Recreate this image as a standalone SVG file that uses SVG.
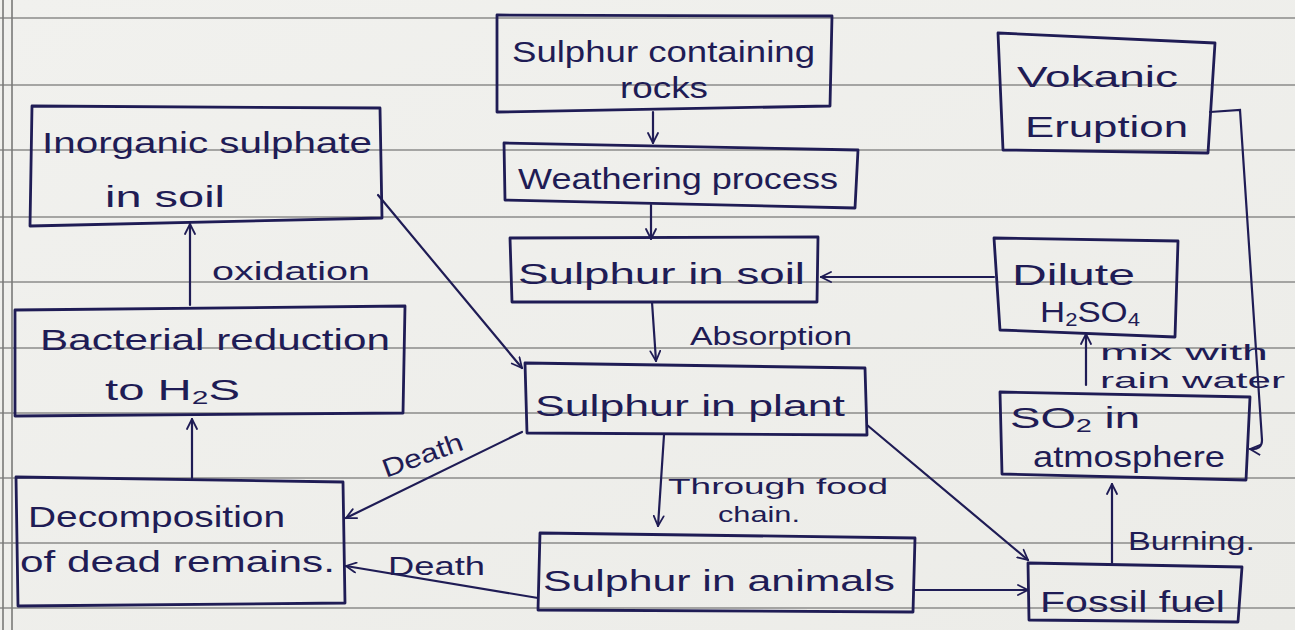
<svg xmlns="http://www.w3.org/2000/svg" width="1295" height="630" viewBox="0 0 1295 630">
  <style>
    .rule { stroke: #8c8c8a; stroke-width: 1.6; fill: none; }
    .margin { stroke: #7a7a78; stroke-width: 1.6; fill: none; }
    .box { fill: none; stroke: #1f1c55; stroke-width: 2.8; stroke-linejoin: round; }
    .edge { fill: none; stroke: #1f1c55; stroke-width: 2.2; stroke-linecap: round; }
    .t { font-family: "Liberation Sans", "DejaVu Sans", sans-serif; font-size: 30px; fill: #1f1c55; }
    .lbl { font-family: "Liberation Sans", "DejaVu Sans", sans-serif; font-size: 26px; fill: #1f1c55; }
    .sm { font-size: 22px; }
    .sub { font-size: 19px; }
  </style>
  <defs>
    <marker id="arr" viewBox="0 0 12 12" refX="11" refY="6" markerWidth="12" markerHeight="12" markerUnits="userSpaceOnUse" orient="auto">
      <path d="M1,1 L11,6 L1,11" fill="none" stroke="#1f1c55" stroke-width="1.8" stroke-linecap="round"/>
    </marker>
    <linearGradient id="paper" x1="0" y1="0" x2="1" y2="1">
      <stop offset="0" stop-color="#f1f1ee"/>
      <stop offset="1" stop-color="#ecece8"/>
    </linearGradient>
  </defs>

  <!-- paper -->
  <rect width="1295" height="630" fill="url(#paper)"/>
  <g id="ruling">
    <path class="rule" d="M0,18 H1295 M0,85 H1295 M0,150 H1295 M0,217 H1295 M0,282 H1295 M0,348 H1295 M0,413 H1295 M0,478 H1295 M0,543 H1295 M0,608 H1295"/>
    <path class="margin" d="M3,0 V630 M12,0 V630"/>
  </g>

  <!-- connectors -->
  <g id="connectors">
    <path class="edge" d="M653,112 V143" marker-end="url(#arr)"/>
    <path class="edge" d="M651,205 V239" marker-end="url(#arr)"/>
    <path class="edge" d="M652,302 L656,361" marker-end="url(#arr)"/>
    <path class="edge" d="M664,435 L658,526" marker-end="url(#arr)"/>
    <path class="edge" d="M915,590 L1028,590" marker-end="url(#arr)"/>
    <path class="edge" d="M867,425 L1028,560" marker-end="url(#arr)"/>
    <path class="edge" d="M1112,563 V484" marker-end="url(#arr)"/>
    <path class="edge" d="M1086,385 V334" marker-end="url(#arr)"/>
    <path class="edge" d="M994,277 L821,277" marker-end="url(#arr)"/>
    <path class="edge" d="M1210,112 L1240,110 L1262,440 Q1262,450 1250,449" marker-end="url(#arr)"/>
    <path class="edge" d="M190,305 V224" marker-end="url(#arr)"/>
    <path class="edge" d="M192,478 V419" marker-end="url(#arr)"/>
    <path class="edge" d="M522,432 L346,518" marker-end="url(#arr)"/>
    <path class="edge" d="M538,598 L346,566" marker-end="url(#arr)"/>
    <path class="edge" d="M378,195 L522,368" marker-end="url(#arr)"/>
  </g>

  <!-- edge labels -->
  <g id="edge-labels">
    <text class="lbl" x="690" y="345" textLength="162" lengthAdjust="spacingAndGlyphs">Absorption</text>
    <text class="lbl sm" x="668" y="494" textLength="220" lengthAdjust="spacingAndGlyphs">Through food</text>
    <text class="lbl sm" x="718" y="522" textLength="82" lengthAdjust="spacingAndGlyphs">chain.</text>
    <text class="lbl" x="1128" y="550" textLength="127" lengthAdjust="spacingAndGlyphs">Burning.</text>
    <text class="lbl sm" x="1100" y="360" textLength="168" lengthAdjust="spacingAndGlyphs">mix with</text>
    <text class="lbl sm" x="1100" y="388" textLength="185" lengthAdjust="spacingAndGlyphs">rain water</text>
    <text class="lbl" x="212" y="280" textLength="158" lengthAdjust="spacingAndGlyphs">oxidation</text>
    <text class="lbl" x="386" y="478" transform="rotate(-20 386 478)" textLength="84" lengthAdjust="spacingAndGlyphs">Death</text>
    <text class="lbl" x="388" y="575" textLength="97" lengthAdjust="spacingAndGlyphs">Death</text>
  </g>

  <!-- nodes -->
  <g id="rocks">
    <path class="box" d="M497,15 L832,16 L830,106 L497,112 Z"/>
    <text class="t" x="512" y="62" textLength="303" lengthAdjust="spacingAndGlyphs">Sulphur containing</text>
    <text class="t" x="620" y="98" textLength="88" lengthAdjust="spacingAndGlyphs">rocks</text>
  </g>
  <g id="weathering">
    <path class="box" d="M504,143 L858,150 L855,208 L505,200 Z"/>
    <text class="t" x="518" y="189" textLength="320" lengthAdjust="spacingAndGlyphs">Weathering process</text>
  </g>
  <g id="soil">
    <path class="box" d="M510,238 L818,237 L817,302 L512,302 Z"/>
    <text class="t" x="518" y="284" textLength="287" lengthAdjust="spacingAndGlyphs">Sulphur in soil</text>
  </g>
  <g id="plant">
    <path class="box" d="M525,363 L865,368 L867,435 L527,433 Z"/>
    <text class="t" x="535" y="416" textLength="310" lengthAdjust="spacingAndGlyphs">Sulphur in plant</text>
  </g>
  <g id="animals">
    <path class="box" d="M540,533 L915,538 L913,612 L538,610 Z"/>
    <text class="t" x="543" y="591" textLength="352" lengthAdjust="spacingAndGlyphs">Sulphur in animals</text>
  </g>
  <g id="fossil">
    <path class="box" d="M1028,563 L1242,567 L1238,622 L1029,620 Z"/>
    <text class="t" x="1040" y="612" textLength="185" lengthAdjust="spacingAndGlyphs">Fossil fuel</text>
  </g>
  <g id="so2">
    <path class="box" d="M1000,392 L1250,397 L1246,480 L1002,474 Z"/>
    <text class="t" x="1010" y="428" textLength="130" lengthAdjust="spacingAndGlyphs">SO<tspan class="sub" dy="4">2</tspan><tspan dy="-4"> in</tspan></text>
    <text class="t" x="1033" y="467" textLength="192" lengthAdjust="spacingAndGlyphs">atmosphere</text>
  </g>
  <g id="dilute">
    <path class="box" d="M994,238 L1178,241 L1175,337 L1000,330 Z"/>
    <text class="t" x="1012" y="285" textLength="123" lengthAdjust="spacingAndGlyphs">Dilute</text>
    <text class="t" x="1040" y="322" textLength="100" lengthAdjust="spacingAndGlyphs">H<tspan class="sub" dy="4">2</tspan><tspan dy="-4">SO</tspan><tspan class="sub" dy="4">4</tspan></text>
  </g>
  <g id="volcanic">
    <path class="box" d="M998,33 L1215,43 L1208,153 L1003,150 Z"/>
    <text class="t" x="1017" y="87" textLength="161" lengthAdjust="spacingAndGlyphs">Vokanic</text>
    <text class="t" x="1025" y="137" textLength="163" lengthAdjust="spacingAndGlyphs">Eruption</text>
  </g>
  <g id="inorganic">
    <path class="box" d="M32,106 L380,108 L382,218 L30,226 Z"/>
    <text class="t" x="42" y="153" textLength="330" lengthAdjust="spacingAndGlyphs">Inorganic sulphate</text>
    <text class="t" x="105" y="207" textLength="120" lengthAdjust="spacingAndGlyphs">in soil</text>
  </g>
  <g id="bacterial">
    <path class="box" d="M15,310 L405,306 L403,413 L15,416 Z"/>
    <text class="t" x="40" y="350" textLength="350" lengthAdjust="spacingAndGlyphs">Bacterial reduction</text>
    <text class="t" x="105" y="400" textLength="135" lengthAdjust="spacingAndGlyphs">to H<tspan class="sub" dy="4">2</tspan><tspan dy="-4">S</tspan></text>
  </g>
  <g id="decomposition">
    <path class="box" d="M16,477 L343,482 L345,603 L18,606 Z"/>
    <text class="t" x="28" y="527" textLength="257" lengthAdjust="spacingAndGlyphs">Decomposition</text>
    <text class="t" x="20" y="572" textLength="315" lengthAdjust="spacingAndGlyphs">of dead remains.</text>
  </g>
</svg>
